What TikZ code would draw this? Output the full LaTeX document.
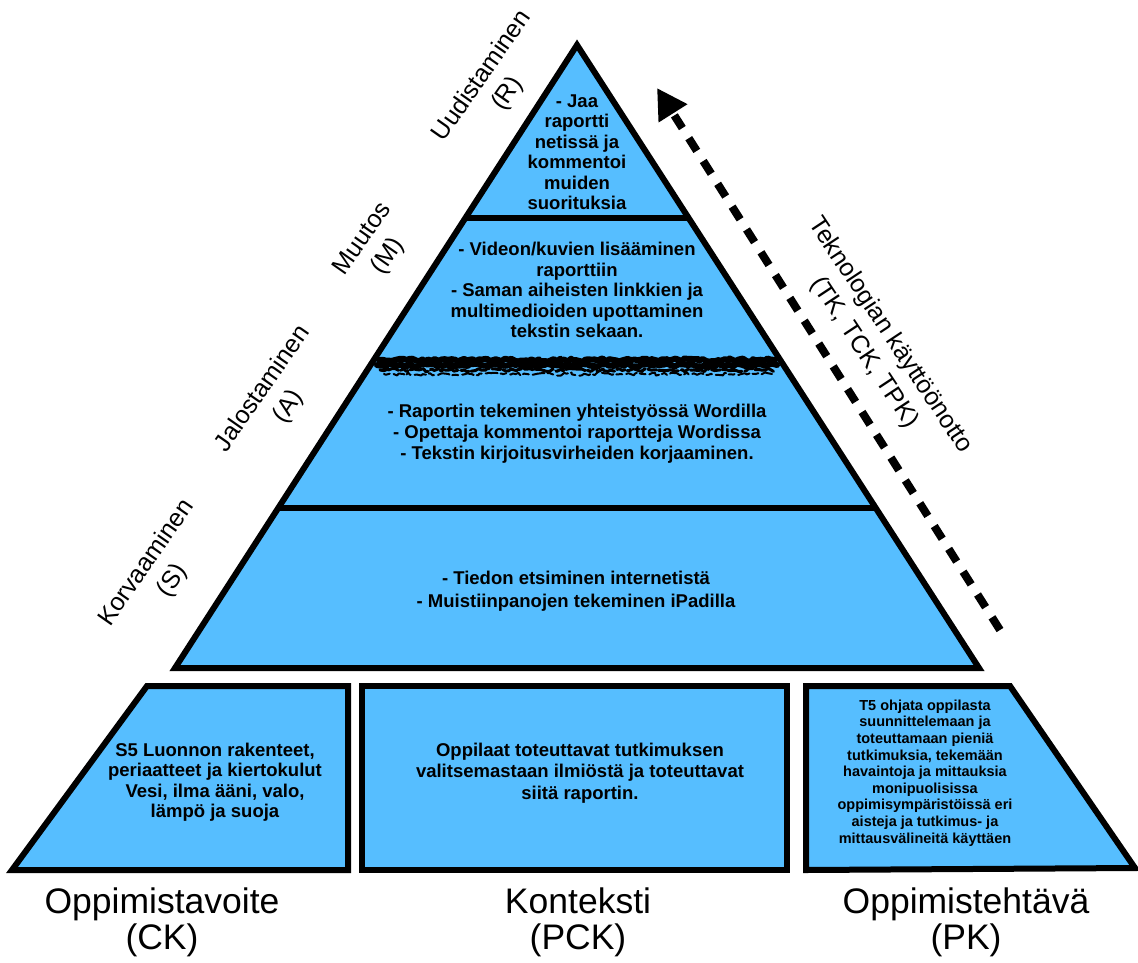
\documentclass[tikz,border=0pt]{standalone}
\usepackage{fontspec}
\setmainfont{Liberation Sans}
\usetikzlibrary{arrows.meta,decorations.pathmorphing}
\definecolor{pyr}{RGB}{86,190,255}
\tikzset{
  tier/.style={fill=pyr, draw=black, line width=6pt, line join=miter},
  body/.style={font=\bfseries\fontsize{18.5}{20.5}\selectfont, align=center, inner sep=0pt},
  small/.style={font=\bfseries\fontsize{14.5}{16.6}\selectfont, align=center, inner sep=0pt},
  side/.style={font=\fontsize{25}{31}\selectfont, align=center, inner sep=0pt},
  caption/.style={font=\fontsize{35.5}{36}\selectfont, align=center, inner sep=0pt},
  scribble/.style={line join=round, line cap=round, decorate, decoration={random steps, segment length=3pt, amplitude=1.6pt}},
}
\begin{document}
\begin{tikzpicture}[x=1pt,y=-1pt]
\useasboundingbox (0,0) rectangle (1138,962);
% pyramid
\path[tier] (577,45) -- (175,668) -- (979,668) -- cycle;
\draw[line width=6pt] (465.4,218) -- (688.6,218);
\draw[line width=6pt] (278.4,508) -- (875.6,508);
% scribbled divider
\pgfmathsetseed{11}
\draw[line width=6pt, scribble] (379,360) -- (775,360);
\draw[line width=6pt, scribble] (377,365) -- (777,365);
\draw[line width=3pt, scribble, dash pattern=on 20pt off 3pt on 9pt off 2pt] (380,370) -- (775,370);
\draw[line width=2pt, scribble, dash pattern=on 6pt off 4pt on 12pt off 3pt] (384,374) -- (772,374);
% pyramid texts
\node[body] (r) at (577,152) {- Jaa\\raportti\\netissä ja\\kommentoi\\muiden\\suorituksia};
\node[body] (m) at (577,290) {- Videon/kuvien lisääminen\\raporttiin\\- Saman aiheisten linkkien ja\\multimedioiden upottaminen\\tekstin sekaan.};
\node[body, font=\bfseries\fontsize{18.5}{21}\selectfont] (a) at (577,434) {- Raportin tekeminen yhteistyössä Wordilla\\- Opettaja kommentoi raportteja Wordissa\\- Tekstin kirjoitusvirheiden korjaaminen.};
\node[body, font=\bfseries\fontsize{18.5}{22.5}\selectfont] (s) at (576,591) {- Tiedon etsiminen internetistä\\- Muistiinpanojen tekeminen iPadilla};
% side labels
\node[side, rotate=55] (ls) at (160,572) {Korvaaminen\\(S)};
\node[side, rotate=55] (la) at (276,398) {Jalostaminen\\(A)};
\node[side, rotate=55] (lm) at (376,248) {Muutos\\(M)};
\node[side, rotate=55] (lr) at (495,85) {Uudistaminen\\(R)};
\node[side, rotate=-56.5] (lt) at (877,344) {Teknologian käyttöönotto\\(TK, TCK, TPK)};
% dashed arrow
\coordinate (arrS) at (1000,630);
\coordinate (arrE) at (657,88);
\draw[line width=8pt, dash pattern=on 15pt off 12pt, -{Triangle[length=30pt,width=32pt]}] (arrS) -- (arrE);
% bottom boxes
\path[tier] (147,686) -- (348,686) -- (348,870) -- (12,870) -- cycle;
\path[tier] (362,686) rectangle (787,870);
\path[tier] (806,686) -- (1010,686) -- (1135,868) -- (806,870) -- cycle;
\node[body] (ck) at (215,782) {S5 Luonnon rakenteet,\\periaatteet ja kiertokulut\\Vesi, ilma ääni, valo,\\lämpö ja suoja};
\node[body, font=\bfseries\fontsize{18.5}{21.5}\selectfont] (pck) at (580,773) {Oppilaat toteuttavat tutkimuksen\\valitsemastaan ilmiöstä ja toteuttavat\\siitä raportin.};
\node[small] (pk) at (925,773) {T5 ohjata oppilasta\\suunnittelemaan ja\\toteuttamaan pieniä\\tutkimuksia, tekemään\\havaintoja ja mittauksia\\monipuolisissa\\oppimisympäristöissä eri\\aisteja ja tutkimus- ja\\mittausvälineitä käyttäen};
% captions
\node[caption] (c1) at (162,922) {Oppimistavoite\\(CK)};
\node[caption] (c2) at (578,922) {Konteksti\\(PCK)};
\node[caption] (c3) at (966,922) {Oppimistehtävä\\(PK)};
\end{tikzpicture}
\end{document}
